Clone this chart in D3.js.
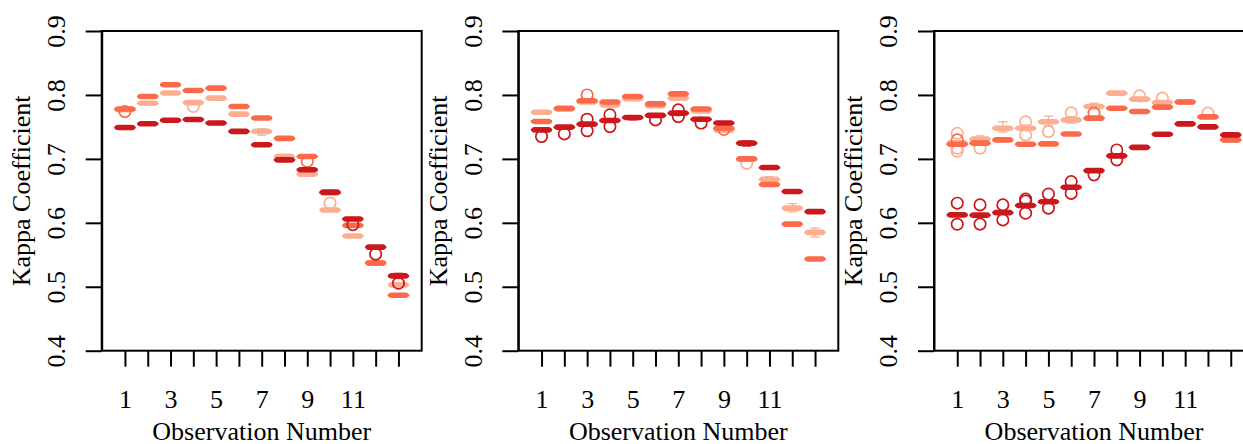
<!DOCTYPE html>
<html>
<head>
<meta charset="utf-8">
<script src="https://cdn.jsdelivr.net/npm/d3@7"></script>
<style>
  html, body { margin: 0; padding: 0; background: #fff; }
  svg { display: block; }
  text { font-family: "Liberation Serif", "Times New Roman", serif; fill: #000; }
</style>
</head>
<body>
<svg id="chart" width="1243" height="444"></svg>
<script>
// ---- categories and tick labels ----
const observations = [1, 2, 3, 4, 5, 6, 7, 8, 9, 10, 11, 12, 13];
const xTickLabels = ["1", "", "3", "", "5", "", "7", "", "9", "", "11", "", ""];
const yTicks = [0.4, 0.5, 0.6, 0.7, 0.8, 0.9];
const yTickLabels = ["0.4", "0.5", "0.6", "0.7", "0.8", "0.9"];
const seriesNames = ["light", "medium", "dark"];
const seriesColors = ["#FCAE91", "#FB6A4A", "#CB181D"];

// ---- panel 1: medians per observation ----
const p1Light  = [0.777, 0.787, 0.803, 0.788, 0.795, 0.770, 0.743, 0.7036, 0.676, 0.620, 0.5795, 0.538, 0.503];
const p1Medium = [0.778, 0.7975, 0.816, 0.807, 0.8106, 0.782, 0.764, 0.732, 0.7036, 0.647, 0.596, 0.537, 0.4867];
const p1Dark   = [0.749, 0.755, 0.7605, 0.7615, 0.756, 0.743, 0.722, 0.6985, 0.683, 0.648, 0.606, 0.562, 0.517];
// outliers [observation, value]
const p1LightOut  = [[4, 0.782], [10, 0.631]];
const p1MediumOut = [[1, 0.774], [9, 0.696]];
const p1DarkOut   = [[11, 0.597], [12, 0.551], [13, 0.5055]];
// whiskers that reach beyond the box [observation, low, high]
const p1LightWhisk  = [[7, 0.737, 0.747], [8, 0.699, 0.707]];
const p1MediumWhisk = [];
const p1DarkWhisk   = [[13, 0.513, 0.521]];

// ---- panel 2 ----
const p2Light  = [0.773, 0.778, 0.789, 0.7845, 0.794, 0.783, 0.795, 0.775, 0.745, 0.6995, 0.668, 0.623, 0.585];
const p2Medium = [0.7584, 0.779, 0.791, 0.789, 0.7975, 0.786, 0.8017, 0.778, 0.748, 0.700, 0.660, 0.598, 0.5435];
const p2Dark   = [0.7454, 0.7496, 0.7543, 0.760, 0.7647, 0.768, 0.7715, 0.762, 0.756, 0.7246, 0.6864, 0.649, 0.6175];
const p2LightOut  = [[10, 0.693]];
const p2MediumOut = [[3, 0.800], [9, 0.746]];
const p2DarkOut   = [[1, 0.735], [2, 0.739], [3, 0.762], [3, 0.744], [4, 0.769], [4, 0.7505],
                     [6, 0.761], [7, 0.7767], [7, 0.766], [8, 0.756]];
const p2LightWhisk  = [[11, 0.664, 0.672], [12, 0.617, 0.630], [13, 0.578, 0.592]];
const p2MediumWhisk = [];
const p2DarkWhisk   = [[5, 0.761, 0.767], [10, 0.720, 0.728]];

// ---- panel 3 ----
const p3Light  = [0.725, 0.731, 0.748, 0.748, 0.758, 0.761, 0.782, 0.8028, 0.7934, 0.788, 0.789, 0.765, 0.730];
const p3Medium = [0.723, 0.7246, 0.7297, 0.723, 0.7235, 0.739, 0.7637, 0.7793, 0.774, 0.781, 0.789, 0.766, 0.7297];
const p3Dark   = [0.6124, 0.612, 0.616, 0.627, 0.633, 0.6557, 0.6817, 0.7047, 0.718, 0.7386, 0.7548, 0.750, 0.7375];
const p3LightOut  = [[1, 0.740], [1, 0.7167], [1, 0.712], [2, 0.7167], [4, 0.758], [4, 0.7375],
                     [5, 0.7427], [6, 0.772], [9, 0.7986], [10, 0.795], [12, 0.7715]];
const p3MediumOut = [[1, 0.7297], [7, 0.7715]];
const p3DarkOut   = [[1, 0.6307], [1, 0.5978], [2, 0.628], [2, 0.598], [3, 0.628], [3, 0.6045],
                     [4, 0.637], [4, 0.634], [4, 0.615], [5, 0.645], [5, 0.623], [6, 0.6645], [6, 0.646],
                     [7, 0.675], [8, 0.714], [8, 0.6985]];
const p3LightWhisk  = [[2, 0.726, 0.736], [3, 0.742, 0.758], [4, 0.744, 0.753], [5, 0.752, 0.767],
                       [6, 0.756, 0.766], [7, 0.778, 0.787]];
const p3MediumWhisk = [];
const p3DarkWhisk   = [];

// half of the inter-quartile range, in kappa units (boxes are very tight)
const boxHalfSpread = 0.0032;

const panels = [
  { med: [p1Light, p1Medium, p1Dark], out: [p1LightOut, p1MediumOut, p1DarkOut], whisk: [p1LightWhisk, p1MediumWhisk, p1DarkWhisk] },
  { med: [p2Light, p2Medium, p2Dark], out: [p2LightOut, p2MediumOut, p2DarkOut], whisk: [p2LightWhisk, p2MediumWhisk, p2DarkWhisk] },
  { med: [p3Light, p3Medium, p3Dark], out: [p3LightOut, p3MediumOut, p3DarkOut], whisk: [p3LightWhisk, p3MediumWhisk, p3DarkWhisk] }
];

// ---- layout ----
const svg = d3.select("#chart");
svg.append("rect").attr("width", 1243).attr("height", 444).attr("fill", "#fff");

const panelLefts = [101.7, 518.3, 934];
const panelWidth = 320;
const plotTop = 31, plotBottom = 350.7;
const fontSize = 26;
const serif = "Liberation Serif, Times New Roman, serif";
const tickLen = 16;

const y = d3.scaleLinear().domain([0.4, 0.9]).range([plotBottom, plotTop]);

panels.forEach((panel, pi) => {
  const left = panelLefts[pi];
  const x = d3.scaleLinear().domain([-0.02, 14.02]).range([left, left + panelWidth]);
  const unit = x(1) - x(0);
  const boxHalfW = 0.4 * unit;
  const stapleHalfW = 0.2 * unit;
  const g = svg.append("g");

  // boxes, whiskers and outliers, one series at a time
  panel.med.forEach((meds, si) => {
    const col = seriesColors[si];
    const sg = g.append("g").attr("class", "series-" + seriesNames[si]);
    const whiskByObs = new Map(panel.whisk[si].map(w => [w[0], w]));

    observations.forEach((o, i) => {
      const m = meds[i];
      const cx = x(o);
      const w = whiskByObs.get(o);
      if (w) {
        sg.append("line").attr("x1", cx).attr("x2", cx)
          .attr("y1", y(w[1])).attr("y2", y(w[2]))
          .attr("stroke", col).attr("stroke-width", 1.3);
        [w[1], w[2]].forEach(v => {
          sg.append("line").attr("x1", cx - stapleHalfW).attr("x2", cx + stapleHalfW)
            .attr("y1", y(v)).attr("y2", y(v))
            .attr("stroke", col).attr("stroke-width", 1.3);
        });
      }
      sg.append("rect")
        .attr("x", cx - boxHalfW).attr("width", 2 * boxHalfW)
        .attr("y", y(m + boxHalfSpread))
        .attr("height", y(m - boxHalfSpread) - y(m + boxHalfSpread))
        .attr("rx", 2).attr("fill", col).attr("stroke", col).attr("stroke-width", 1.5);
      sg.append("line")
        .attr("x1", cx - boxHalfW).attr("x2", cx + boxHalfW)
        .attr("y1", y(m)).attr("y2", y(m))
        .attr("stroke", col).attr("stroke-width", 3.4).attr("stroke-linecap", "round");
    });

    sg.selectAll("circle.out").data(panel.out[si]).enter().append("circle")
      .attr("class", "out")
      .attr("cx", d => x(d[0])).attr("cy", d => y(d[1]))
      .attr("r", 5.7).attr("fill", "none")
      .attr("stroke", col).attr("stroke-width", 1.7);
  });

  // plot frame
  g.append("rect")
    .attr("x", left).attr("y", plotTop)
    .attr("width", panelWidth).attr("height", plotBottom - plotTop)
    .attr("fill", "none").attr("stroke", "#000").attr("stroke-width", 2);

  // y axis with labels parallel to the axis
  const yAxis = g.append("g")
    .attr("transform", `translate(${left},0)`)
    .call(d3.axisLeft(y).tickValues(yTicks).tickSize(tickLen).tickSizeOuter(0)
      .tickFormat((d, i) => yTickLabels[i]));
  yAxis.attr("font-family", serif);
  yAxis.select(".domain").attr("stroke-width", 2);
  yAxis.selectAll(".tick line").attr("stroke-width", 2);
  yAxis.selectAll(".tick text")
    .attr("x", null).attr("dy", null)
    .attr("transform", `translate(${-36.7},0) rotate(-90)`)
    .attr("text-anchor", "middle")
    .style("font-family", serif)
    .attr("font-size", fontSize);

  // x axis: ticks at every observation, labels at odd ones
  const xAxis = g.append("g")
    .attr("transform", `translate(0,${plotBottom})`)
    .call(d3.axisBottom(x).tickValues(observations).tickSize(tickLen).tickSizeOuter(0)
      .tickFormat((d, i) => xTickLabels[i]));
  xAxis.attr("font-family", serif);
  xAxis.select(".domain").remove();
  xAxis.selectAll(".tick line").attr("stroke-width", 2);
  xAxis.selectAll(".tick text")
    .attr("y", 57.3).attr("dy", null)
    .style("font-family", serif)
    .attr("font-size", fontSize);

  // axis titles
  g.append("text")
    .attr("x", left + panelWidth / 2).attr("y", 439.5)
    .attr("text-anchor", "middle").attr("font-size", fontSize)
    .style("font-family", serif)
    .text("Observation Number");
  g.append("text")
    .attr("transform", `translate(${left - 71.7},${(plotTop + plotBottom) / 2}) rotate(-90)`)
    .attr("text-anchor", "middle").attr("font-size", fontSize)
    .style("font-family", serif)
    .text("Kappa Coefficient");
});
</script>
</body>
</html>
